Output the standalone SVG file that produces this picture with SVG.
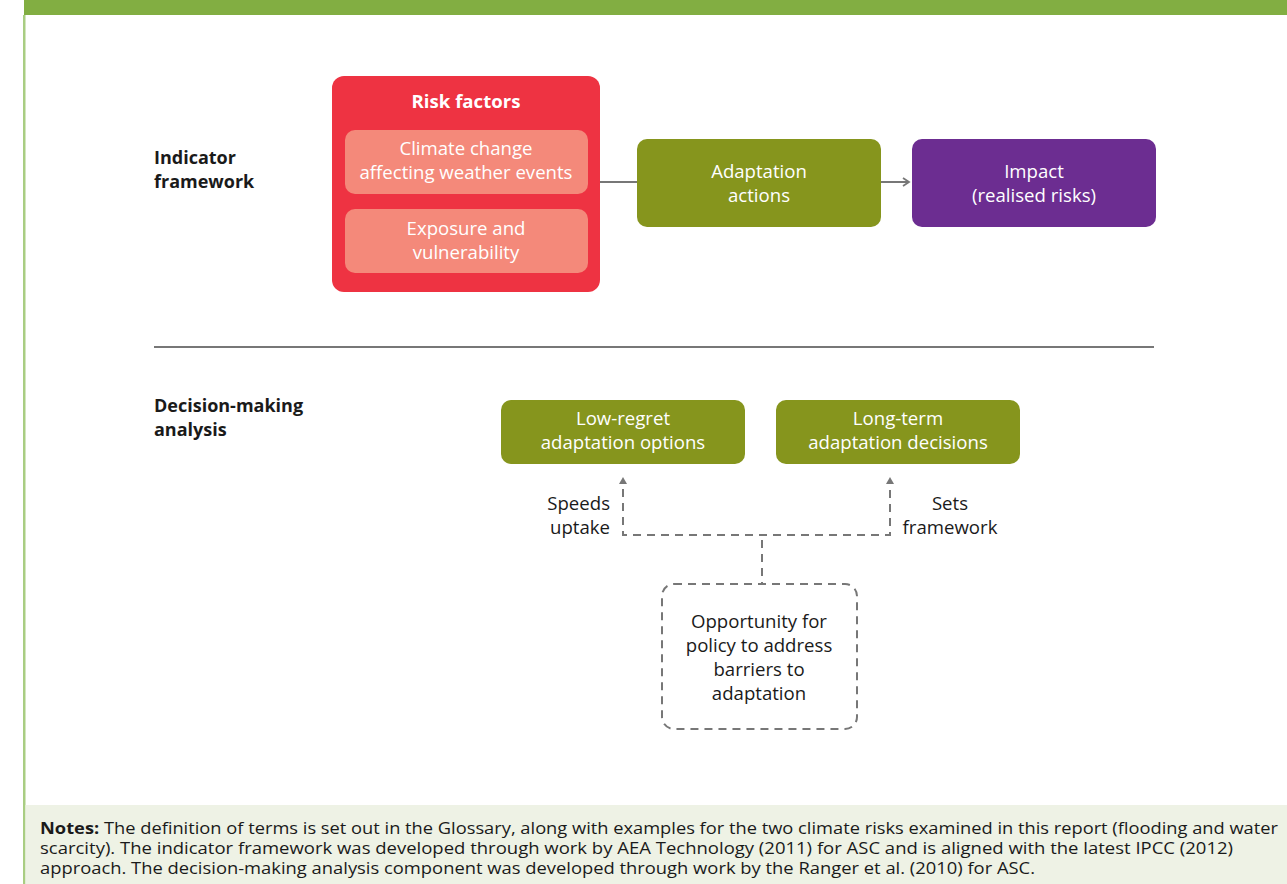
<svg xmlns="http://www.w3.org/2000/svg" width="1287" height="884" viewBox="0 0 1287 884">
<defs>
<style>
text{font-family:"Open Sans","Noto Sans","Liberation Sans",sans-serif;}
.w{fill:#fff;font-size:18.6px;text-anchor:middle;}
.k{fill:#1a1a1a;font-size:18.6px;}
.kb{fill:#1a1a1a;font-size:18px;font-weight:bold;}
.c{text-anchor:middle;}
.dash{fill:none;stroke:#777;stroke-width:2;stroke-dasharray:8 6;}
.note{fill:#1a1a1a;font-size:15.5px;}
</style>
<marker id="ah" markerWidth="10" markerHeight="10" refX="8" refY="5" orient="auto" markerUnits="userSpaceOnUse">
<path d="M2,1 L8,5 L2,9" fill="none" stroke="#777" stroke-width="1.8"/>
</marker>
</defs>
<rect x="0" y="0" width="1287" height="884" fill="#fff"/>
<rect x="24" y="0" width="1263" height="15" fill="#82ae42"/>
<rect x="23" y="15" width="2.5" height="869" fill="#a9cd82"/>
<rect x="25.5" y="805" width="1262" height="79" fill="#eef2e5"/>

<g id="labels">
<text class="kb" x="154" y="164">Indicator</text>
<text class="kb" x="154" y="188">framework</text>
<text class="kb" x="154" y="412">Decision-making</text>
<text class="kb" x="154" y="436">analysis</text>
</g>
<line x1="154" y1="347" x2="1154" y2="347" stroke="#777" stroke-width="2"/>

<g id="connectors">
<line x1="600" y1="182" x2="637" y2="182" stroke="#777" stroke-width="2"/>
<line x1="881" y1="182" x2="909" y2="182" stroke="#777" stroke-width="2" marker-end="url(#ah)"/>
<path class="dash" d="M623,489 V535 H890 V489"/>
<path d="M619,484 L623,477 L627,484 Z" fill="#777"/>
<path d="M886,484 L890,477 L894,484 Z" fill="#777"/>
<line class="dash" x1="762" y1="540" x2="762" y2="583"/>
</g>

<g id="risk-factors">
<rect x="332" y="76" width="268" height="216" rx="12" fill="#ee3342"/>
<text class="w" x="466" y="108" font-weight="bold" font-size="18px">Risk factors</text>
</g>
<g id="climate-change">
<rect x="345" y="130" width="243" height="64" rx="10" fill="#f4897a"/>
<text class="w" x="466" y="155">Climate change</text>
<text class="w" x="466" y="179">affecting weather events</text>
</g>
<g id="exposure">
<rect x="345" y="209" width="243" height="64" rx="10" fill="#f4897a"/>
<text class="w" x="466" y="235">Exposure and</text>
<text class="w" x="466" y="259">vulnerability</text>
</g>
<g id="adaptation-actions">
<rect x="637" y="139" width="244" height="88" rx="10" fill="#86951d"/>
<text class="w" x="759" y="178">Adaptation</text>
<text class="w" x="759" y="202">actions</text>
</g>
<g id="impact">
<rect x="912" y="139" width="244" height="88" rx="10" fill="#6c2d91"/>
<text class="w" x="1034" y="178">Impact</text>
<text class="w" x="1034" y="202">(realised risks)</text>
</g>
<g id="low-regret">
<rect x="501" y="400" width="244" height="64" rx="10" fill="#86951d"/>
<text class="w" x="623" y="425">Low-regret</text>
<text class="w" x="623" y="449">adaptation options</text>
</g>
<g id="long-term">
<rect x="776" y="400" width="244" height="64" rx="10" fill="#86951d"/>
<text class="w" x="898" y="425">Long-term</text>
<text class="w" x="898" y="449">adaptation decisions</text>
</g>
<g id="edge-labels">
<text class="k" x="610" y="510" text-anchor="end">Speeds</text>
<text class="k" x="610" y="534" text-anchor="end">uptake</text>
<text class="k c" x="950" y="510">Sets</text>
<text class="k c" x="950" y="534">framework</text>
</g>
<g id="opportunity">
<rect class="dash" x="662" y="584" width="195" height="145" rx="12"/>
<text class="k c" x="759" y="628">Opportunity for</text>
<text class="k c" x="759" y="652">policy to address</text>
<text class="k c" x="759" y="676">barriers to</text>
<text class="k c" x="759" y="700">adaptation</text>
</g>
<g id="notes">
<text class="note" x="40" y="834" textLength="1238" lengthAdjust="spacingAndGlyphs"><tspan font-weight="bold">Notes:</tspan> The definition of terms is set out in the Glossary, along with examples for the two climate risks examined in this report (flooding and water</text>
<text class="note" x="40" y="854" textLength="1193" lengthAdjust="spacingAndGlyphs">scarcity). The indicator framework was developed through work by AEA Technology (2011) for ASC and is aligned with the latest IPCC (2012)</text>
<text class="note" x="40" y="874" textLength="995" lengthAdjust="spacingAndGlyphs">approach. The decision-making analysis component was developed through work by the Ranger et al. (2010) for ASC.</text>
</g>
</svg>
